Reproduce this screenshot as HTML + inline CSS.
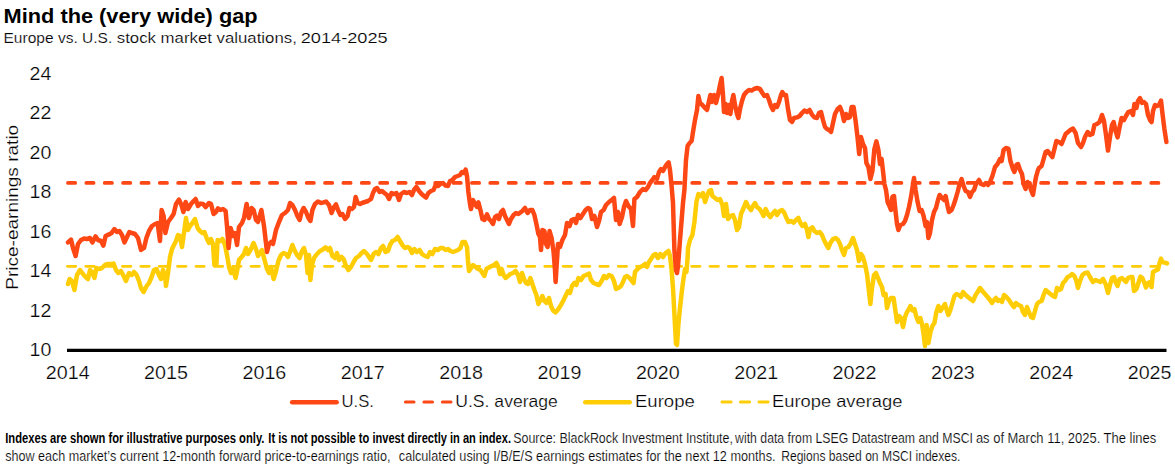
<!DOCTYPE html>
<html><head><meta charset="utf-8">
<style>
html,body{margin:0;padding:0;background:#fff;}
body{width:1175px;height:465px;overflow:hidden;}
svg{display:block;}
text{font-family:"Liberation Sans",sans-serif;fill:#000;}
.thin text,text.thin{stroke:#fff;stroke-width:0.24px;}
text.thin2{stroke:#fff;stroke-width:0.18px;}
</style></head>
<body>
<svg width="1175" height="465" viewBox="0 0 1175 465">
<rect width="1175" height="465" fill="#fff"/>
<!-- TITLE -->
<text x="3.6" y="22.8" font-size="19.8" font-weight="bold" textLength="254" lengthAdjust="spacingAndGlyphs">Mind the (very wide) gap</text>
<text x="3.5" y="43.4" class="thin2" font-size="14.3" textLength="108.8" lengthAdjust="spacingAndGlyphs">Europe vs. U.S.</text>
<text x="116.8" y="43.4" class="thin2" font-size="14.3" textLength="180.0" lengthAdjust="spacingAndGlyphs">stock market valuations,</text>
<text x="300.7" y="43.4" class="thin2" font-size="14.3" textLength="87.0" lengthAdjust="spacingAndGlyphs">2014-2025</text>
<!-- Y AXIS LABELS -->
<g font-size="18" class="thin">
<text x="29.6" y="79.9" textLength="21.8" lengthAdjust="spacingAndGlyphs">24</text>
<text x="29.6" y="119.3" textLength="21.8" lengthAdjust="spacingAndGlyphs">22</text>
<text x="29.6" y="158.8" textLength="21.8" lengthAdjust="spacingAndGlyphs">20</text>
<text x="29.6" y="198.2" textLength="21.8" lengthAdjust="spacingAndGlyphs">18</text>
<text x="29.6" y="237.6" textLength="21.8" lengthAdjust="spacingAndGlyphs">16</text>
<text x="29.6" y="277.0" textLength="21.8" lengthAdjust="spacingAndGlyphs">14</text>
<text x="29.6" y="316.5" textLength="21.8" lengthAdjust="spacingAndGlyphs">12</text>
<text x="29.6" y="355.9" textLength="21.8" lengthAdjust="spacingAndGlyphs">10</text>
</g>
<text transform="translate(18.2,289.8) rotate(-90)" class="thin2" font-size="16" textLength="165" lengthAdjust="spacingAndGlyphs">Price-earnings ratio</text>
<!-- AVERAGES -->
<line x1="68" y1="182.9" x2="1162" y2="182.9" stroke="#fd4714" stroke-width="3.8" stroke-linecap="round" stroke-dasharray="7.2 11.16"/>
<line x1="67.4" y1="266.3" x2="1162" y2="266.3" stroke="#fecd06" stroke-width="2.8" stroke-linecap="round" stroke-dasharray="8.4 9.96"/>
<!-- DATA -->
<!--EU--><path id="eu" d="M68.0,284.0 L69.6,279.0 L72.0,281.0 L74.4,290.0 L77.0,275.0 L80.0,270.0 L83.0,274.0 L85.6,277.0 L88.0,279.0 L90.0,270.0 L92.0,272.0 L94.4,278.0 L96.4,268.0 L99.0,269.0 L102.0,268.0 L105.0,265.0 L108.0,264.0 L111.0,264.0 L113.6,263.6 L116.0,270.0 L118.4,273.0 L121.0,271.0 L123.6,276.0 L126.0,281.0 L129.0,273.0 L131.6,275.0 L134.0,272.0 L136.6,275.0 L139.0,281.0 L141.0,288.0 L143.6,292.0 L146.0,287.0 L149.0,283.0 L151.6,277.0 L154.0,270.0 L156.4,269.0 L159.0,275.0 L161.0,279.0 L163.0,270.0 L165.0,275.0 L166.0,286.0 L168.0,273.0 L170.0,257.0 L172.0,249.0 L174.0,245.0 L176.0,241.0 L178.0,235.0 L180.0,236.0 L182.0,247.0 L184.4,230.0 L186.0,218.0 L188.0,230.0 L190.0,226.0 L192.4,223.0 L195.0,219.0 L197.6,228.0 L200.0,231.0 L202.4,233.0 L204.4,232.0 L207.0,239.0 L209.0,243.0 L211.0,239.0 L213.0,244.0 L214.4,265.0 L216.4,265.0 L217.6,240.0 L220.0,241.0 L222.4,239.0 L225.0,245.0 L227.0,255.0 L229.0,267.0 L231.0,273.0 L233.0,269.0 L235.6,278.0 L237.6,268.0 L239.0,260.0 L241.6,257.0 L244.0,254.0 L246.0,248.0 L248.0,254.0 L251.0,249.0 L253.6,243.0 L256.0,249.0 L258.0,256.0 L260.0,253.0 L262.0,250.0 L264.0,258.0 L267.0,269.0 L269.0,273.0 L271.0,267.0 L273.6,279.0 L276.0,271.0 L278.4,261.0 L281.0,255.0 L283.6,253.0 L286.0,254.0 L288.0,257.0 L290.0,252.0 L292.4,245.0 L294.4,250.0 L297.0,255.0 L299.6,258.0 L301.6,252.0 L304.0,248.0 L306.0,255.0 L307.6,273.0 L309.0,255.0 L310.4,280.0 L312.0,265.0 L314.0,258.0 L317.0,254.0 L320.0,251.0 L323.0,249.4 L325.6,247.4 L328.0,250.0 L330.0,248.0 L332.4,256.0 L335.0,258.0 L337.0,253.0 L339.0,260.0 L341.6,257.0 L343.6,259.0 L346.0,266.0 L348.4,270.0 L351.0,267.0 L353.6,262.0 L356.0,258.0 L359.0,256.0 L361.6,253.0 L364.0,251.0 L367.0,254.0 L369.0,257.0 L371.0,260.0 L373.6,254.0 L376.0,252.0 L378.4,254.0 L381.0,248.0 L383.0,246.0 L385.6,252.0 L388.0,251.0 L390.0,245.0 L392.4,241.0 L395.0,240.0 L397.6,237.0 L400.0,241.0 L402.4,245.0 L405.0,248.0 L407.6,247.0 L409.6,248.0 L412.0,253.0 L414.4,249.0 L417.0,252.0 L419.6,250.0 L422.0,254.0 L425.0,256.0 L427.6,257.0 L430.0,252.0 L432.4,254.0 L435.0,249.0 L438.0,250.0 L440.4,248.0 L443.0,248.0 L445.6,250.0 L448.0,249.0 L450.4,251.0 L453.0,252.0 L455.6,251.0 L458.0,250.0 L460.4,248.0 L462.4,242.0 L465.0,242.0 L467.0,247.0 L468.0,261.0 L469.0,271.0 L471.0,268.0 L473.0,265.0 L475.6,267.0 L478.0,269.0 L480.4,270.0 L482.4,273.0 L484.4,276.0 L486.4,269.0 L489.0,267.4 L491.6,266.0 L494.0,265.0 L496.4,263.0 L498.4,267.0 L500.0,274.0 L501.6,269.0 L503.6,275.0 L505.6,278.0 L508.0,276.0 L510.4,274.0 L513.0,273.0 L515.6,271.0 L518.0,275.0 L520.0,282.0 L522.0,273.0 L524.0,279.0 L526.0,283.0 L528.0,284.0 L530.4,278.0 L532.4,284.0 L534.4,290.0 L536.4,295.0 L538.4,304.0 L540.0,301.0 L542.4,296.0 L544.4,301.0 L546.4,303.0 L549.0,298.0 L551.0,306.0 L553.0,310.4 L555.6,312.4 L558.4,309.0 L561.0,305.0 L563.6,300.0 L566.0,295.0 L568.0,291.0 L570.0,293.0 L572.0,286.0 L574.4,283.0 L576.4,285.0 L578.4,278.0 L581.0,280.0 L583.6,276.0 L586.0,275.0 L589.0,273.6 L591.0,280.0 L593.6,283.0 L596.0,284.0 L599.0,285.0 L601.6,281.0 L604.0,276.0 L606.4,278.0 L609.0,275.0 L611.6,276.0 L614.0,281.0 L616.0,289.0 L618.4,288.0 L621.0,286.0 L623.0,282.0 L625.0,277.0 L627.0,276.0 L629.6,278.0 L632.0,281.0 L633.6,283.0 L635.0,272.0 L637.6,269.0 L640.0,267.0 L642.4,266.0 L645.0,264.0 L647.0,267.0 L649.0,262.0 L651.0,259.0 L653.6,255.0 L655.6,254.0 L658.0,258.0 L660.4,254.0 L663.0,257.0 L665.6,253.0 L668.4,251.0 L670.0,256.0 L671.6,270.0 L673.0,288.0 L674.4,314.0 L676.0,344.0 L677.0,345.0 L678.4,324.0 L680.0,308.0 L682.0,290.0 L683.6,278.0 L685.0,269.0 L686.4,272.0 L687.6,258.0 L688.0,248.0 L690.0,240.0 L692.4,235.0 L694.4,222.0 L696.4,202.0 L698.4,194.0 L701.0,196.0 L703.0,193.0 L705.0,202.0 L707.0,196.0 L709.0,191.0 L711.0,190.0 L712.4,196.0 L715.0,198.0 L717.6,200.0 L720.0,199.0 L722.4,205.0 L724.0,216.0 L726.0,204.0 L728.0,219.0 L730.4,216.0 L733.0,215.0 L735.0,220.0 L737.0,230.0 L739.0,227.0 L741.0,214.0 L743.6,208.0 L746.0,202.0 L748.4,207.0 L751.0,210.0 L753.0,206.0 L755.0,203.0 L757.0,207.0 L759.6,209.0 L761.6,212.0 L763.6,216.0 L765.6,209.0 L768.0,214.0 L770.4,217.0 L773.0,213.0 L775.0,211.0 L777.0,215.0 L779.6,211.0 L782.0,210.0 L784.4,213.0 L786.4,218.0 L788.4,222.0 L791.0,221.0 L793.6,222.6 L796.0,220.0 L798.4,218.0 L800.4,223.0 L802.4,226.0 L805.0,224.0 L807.0,230.0 L808.4,237.0 L810.0,229.0 L812.4,227.4 L814.4,231.0 L817.0,233.0 L819.6,232.0 L822.0,235.0 L824.0,240.0 L826.0,244.0 L828.4,248.0 L830.4,243.0 L833.0,239.0 L835.6,238.0 L838.0,240.0 L840.0,244.0 L842.0,250.0 L844.0,255.0 L846.0,248.0 L848.4,247.0 L850.4,244.0 L853.0,238.0 L855.0,244.0 L857.0,250.0 L859.0,261.0 L861.0,254.0 L863.0,257.0 L865.0,264.0 L867.0,274.0 L868.6,288.0 L870.4,304.0 L872.0,288.0 L874.0,275.0 L876.0,273.0 L878.0,278.0 L880.0,283.0 L882.0,287.0 L883.6,295.0 L885.6,294.0 L887.0,308.0 L889.0,301.0 L891.0,298.0 L893.6,298.0 L895.0,308.0 L897.0,322.0 L899.0,316.0 L901.0,318.0 L903.0,327.0 L905.0,317.0 L907.0,312.0 L909.0,309.0 L910.4,306.0 L912.4,310.4 L914.4,309.0 L916.4,317.0 L918.4,322.0 L920.4,318.0 L922.0,324.0 L923.6,334.0 L925.0,346.0 L926.6,325.0 L928.4,343.0 L930.4,332.0 L932.4,326.0 L934.4,323.0 L936.4,312.0 L938.4,306.0 L940.4,311.0 L942.4,308.0 L945.0,304.0 L947.0,311.0 L948.4,315.0 L950.4,310.0 L952.4,303.0 L954.4,296.0 L956.4,294.0 L959.0,295.0 L961.0,297.0 L963.0,292.0 L965.6,295.0 L968.0,297.0 L970.4,299.0 L973.0,301.0 L975.6,295.0 L977.6,292.0 L980.0,288.0 L982.4,291.0 L985.0,294.0 L987.6,297.0 L990.0,300.0 L992.0,303.0 L994.0,300.0 L996.0,298.0 L998.0,301.0 L1000.0,300.0 L1002.0,302.0 L1004.0,295.0 L1006.4,297.0 L1009.0,300.0 L1011.6,304.0 L1014.0,307.0 L1016.0,303.0 L1018.4,305.0 L1021.0,306.0 L1023.0,312.0 L1025.0,315.0 L1027.0,307.0 L1029.0,312.0 L1031.0,317.0 L1033.0,318.0 L1035.0,311.0 L1037.0,304.0 L1039.0,302.0 L1041.6,301.0 L1043.6,295.0 L1045.6,290.0 L1048.0,292.0 L1050.4,294.0 L1053.0,296.0 L1055.0,297.0 L1057.0,288.0 L1059.0,290.0 L1061.0,289.0 L1063.0,283.0 L1065.0,281.0 L1067.6,277.0 L1070.0,276.0 L1072.0,274.0 L1074.4,276.0 L1076.4,281.0 L1078.0,288.0 L1080.0,281.0 L1082.4,275.0 L1085.0,273.0 L1087.6,272.6 L1090.0,277.0 L1093.0,282.0 L1095.6,280.0 L1098.0,281.0 L1100.4,282.0 L1103.0,279.0 L1105.6,284.0 L1108.0,293.0 L1110.0,285.0 L1112.0,278.0 L1114.0,277.0 L1116.0,283.0 L1117.6,286.0 L1119.6,279.0 L1122.0,278.0 L1124.0,280.0 L1126.0,282.0 L1128.0,278.0 L1130.4,277.0 L1132.4,277.0 L1134.0,291.0 L1136.4,289.0 L1138.4,283.0 L1140.4,276.6 L1142.4,278.0 L1144.4,283.0 L1146.0,287.4 L1148.0,283.0 L1150.0,282.0 L1151.6,287.0 L1153.0,272.0 L1155.6,270.6 L1158.0,269.4 L1159.6,263.0 L1161.0,258.6 L1162.4,262.0 L1165.0,262.6 L1167.0,263.4" fill="none" stroke="#fecd06" stroke-width="4.5" stroke-linejoin="round" stroke-linecap="round"/><!--/EU-->
<!--US--><path id="us" d="M68.0,242.4 L71.0,239.6 L73.0,248.0 L75.6,256.0 L78.0,244.0 L81.0,240.0 L84.0,238.6 L87.0,239.0 L90.0,238.0 L92.4,242.4 L95.6,236.4 L98.0,240.0 L101.0,241.0 L103.4,245.6 L105.6,236.0 L109.0,234.4 L111.6,233.0 L114.4,229.0 L117.0,232.0 L119.4,231.0 L122.0,235.0 L124.4,242.4 L127.0,237.0 L129.4,232.0 L132.0,233.0 L135.0,234.0 L138.0,238.0 L141.0,250.0 L144.0,248.0 L146.4,238.0 L149.0,231.0 L152.0,226.0 L155.0,224.0 L157.6,223.0 L160.0,241.0 L161.6,210.0 L163.6,216.0 L165.4,233.0 L168.0,222.0 L171.0,218.0 L173.6,214.0 L176.0,204.0 L179.0,199.6 L181.4,205.0 L183.4,212.0 L185.6,202.0 L188.0,209.0 L191.0,204.0 L193.6,201.0 L195.6,199.0 L198.0,206.0 L200.4,203.6 L203.0,204.0 L205.6,207.0 L209.0,203.0 L211.0,204.0 L213.6,214.0 L216.0,212.0 L218.0,208.4 L220.4,210.0 L223.0,209.0 L225.6,211.0 L227.0,226.0 L228.6,248.0 L230.6,228.0 L233.0,236.0 L235.0,233.0 L237.0,245.0 L239.0,227.0 L242.0,223.0 L244.0,218.0 L246.6,204.0 L249.0,218.0 L251.6,208.0 L253.6,210.0 L256.0,220.0 L258.0,222.0 L261.4,210.0 L264.0,226.0 L267.0,252.0 L269.0,244.0 L271.0,242.0 L273.0,244.0 L276.0,230.0 L279.0,222.0 L282.0,215.0 L285.0,213.0 L288.0,210.0 L290.0,203.0 L292.4,205.0 L295.0,210.0 L297.4,216.0 L299.6,220.0 L301.6,212.0 L303.6,208.0 L306.0,212.0 L308.4,218.0 L310.4,221.0 L312.4,210.0 L315.0,204.0 L318.0,201.6 L321.0,203.0 L323.6,202.4 L326.0,201.6 L329.0,205.0 L331.6,213.0 L334.0,207.0 L336.0,204.4 L338.0,210.0 L340.4,215.0 L342.4,214.0 L345.0,219.0 L347.6,216.0 L349.4,208.0 L352.0,209.0 L354.0,207.0 L355.6,197.0 L357.6,203.0 L360.0,204.0 L362.0,203.0 L365.0,202.0 L368.0,201.0 L371.0,199.0 L373.0,193.0 L375.0,189.0 L377.0,188.0 L379.6,192.0 L382.0,191.0 L384.4,193.0 L387.0,195.0 L389.0,199.0 L391.6,193.0 L394.0,194.0 L396.4,193.0 L399.0,200.0 L401.0,194.0 L404.0,192.0 L407.0,193.0 L409.6,192.0 L412.0,195.0 L414.0,190.0 L416.4,187.0 L419.0,191.0 L421.6,194.0 L424.0,196.0 L426.0,197.6 L428.4,193.0 L431.0,191.0 L433.6,190.0 L435.6,185.0 L438.0,186.0 L440.4,184.0 L443.0,183.0 L445.6,185.6 L448.0,186.0 L450.0,181.0 L452.4,180.0 L455.0,177.0 L457.6,176.0 L460.0,175.0 L462.0,172.0 L464.0,173.0 L465.6,169.6 L467.0,176.0 L468.4,192.0 L470.0,204.0 L471.0,209.0 L473.0,200.0 L475.0,204.0 L477.0,207.0 L478.4,202.4 L480.4,210.0 L482.4,219.0 L484.4,220.0 L487.0,214.4 L489.0,219.0 L491.0,221.0 L493.0,224.0 L495.0,217.0 L497.0,215.6 L499.0,219.0 L501.0,212.0 L503.0,210.0 L505.0,216.0 L507.0,220.0 L509.0,224.0 L511.0,219.0 L513.6,215.0 L516.0,213.0 L518.4,214.0 L521.0,212.0 L522.4,211.0 L525.0,208.0 L527.6,213.0 L530.0,210.0 L532.4,210.0 L534.4,215.0 L536.4,224.0 L538.4,234.0 L540.0,237.0 L541.0,250.0 L542.4,230.0 L544.4,231.0 L546.0,244.0 L547.6,247.0 L549.6,231.0 L551.6,238.0 L553.6,252.0 L555.0,270.0 L555.6,282.0 L556.6,266.0 L558.0,244.0 L560.0,247.0 L562.4,240.0 L565.0,235.0 L567.0,223.0 L569.6,226.0 L571.6,220.0 L574.0,219.0 L576.0,223.0 L578.0,215.0 L580.4,218.0 L583.0,214.0 L585.6,210.0 L588.0,208.0 L590.0,209.0 L592.0,219.0 L594.4,216.0 L597.0,227.0 L599.0,221.0 L601.0,212.0 L603.6,210.0 L606.0,205.0 L609.0,202.0 L611.6,200.0 L614.0,198.0 L616.0,220.0 L618.0,212.0 L619.6,224.0 L622.0,217.0 L624.0,207.0 L626.0,201.0 L628.4,206.0 L631.0,209.0 L633.0,226.0 L634.4,199.0 L637.0,197.0 L640.0,192.0 L643.0,189.0 L645.6,190.0 L648.0,187.0 L650.0,183.0 L652.4,180.0 L654.4,177.0 L657.0,179.0 L659.0,172.0 L661.0,169.0 L663.0,171.0 L665.0,167.0 L667.0,164.0 L668.6,162.4 L670.0,170.0 L671.6,186.0 L673.0,203.0 L674.4,250.0 L676.0,270.0 L677.0,273.0 L678.0,266.0 L680.0,240.0 L683.0,203.0 L684.4,190.0 L686.0,160.0 L687.6,146.0 L689.6,143.0 L691.6,141.0 L693.0,132.0 L695.0,120.0 L697.0,110.0 L698.4,96.0 L700.0,103.0 L702.4,105.0 L705.0,108.0 L707.0,110.0 L709.0,101.0 L710.4,95.0 L712.0,102.0 L714.0,95.0 L716.0,103.0 L718.0,95.0 L720.0,85.0 L721.6,78.0 L723.0,95.0 L724.0,112.0 L725.6,104.0 L727.0,113.0 L729.0,105.0 L730.4,114.0 L732.0,101.0 L733.4,95.0 L735.0,105.0 L737.0,114.0 L738.4,118.0 L740.0,109.0 L742.0,101.0 L744.0,95.0 L746.4,92.0 L749.0,90.0 L751.6,90.6 L754.0,89.0 L757.0,88.0 L760.0,89.0 L762.4,93.0 L764.4,96.0 L767.0,95.0 L769.0,100.0 L771.0,106.0 L773.0,110.0 L775.0,105.0 L777.0,107.0 L779.0,102.0 L781.0,95.0 L782.4,92.0 L784.0,95.0 L786.0,95.0 L788.0,109.0 L790.0,120.0 L792.0,122.0 L794.0,118.0 L797.0,117.4 L799.6,116.0 L802.0,113.0 L804.4,110.6 L807.0,112.0 L809.6,110.0 L812.0,114.6 L814.4,117.4 L817.0,118.0 L819.0,113.0 L821.0,112.0 L823.0,120.0 L825.0,127.0 L827.0,129.0 L829.0,130.0 L831.0,132.0 L833.0,123.0 L835.0,114.0 L837.6,109.0 L840.0,107.0 L842.0,112.0 L844.0,121.0 L846.0,114.0 L848.0,118.0 L850.0,117.0 L851.6,107.0 L853.6,107.0 L855.6,121.0 L857.6,138.0 L859.2,154.0 L861.0,137.0 L863.0,144.0 L865.0,148.0 L866.4,163.0 L868.4,167.0 L870.4,179.0 L872.4,171.0 L874.4,149.0 L876.4,141.4 L878.4,150.0 L880.0,164.0 L881.6,159.0 L883.0,171.0 L884.4,184.0 L886.0,190.0 L887.6,202.0 L889.0,205.0 L891.0,210.0 L892.4,197.0 L894.0,196.0 L895.6,212.0 L897.0,224.0 L898.4,230.0 L900.4,225.0 L903.0,224.0 L905.0,221.0 L907.0,215.0 L909.0,207.0 L911.0,197.0 L912.4,188.0 L914.0,178.0 L915.6,190.0 L917.6,202.0 L919.6,211.0 L921.6,210.0 L923.6,216.0 L925.6,226.0 L927.0,222.0 L928.4,238.0 L930.0,233.0 L932.0,220.0 L934.0,212.0 L936.0,208.0 L938.0,200.0 L939.6,195.0 L942.0,198.0 L944.0,200.0 L945.6,196.0 L947.6,206.0 L949.0,212.0 L951.6,210.0 L953.6,205.0 L955.6,199.0 L957.6,192.0 L959.6,184.0 L961.6,179.0 L963.6,186.0 L965.6,191.0 L968.0,192.0 L970.0,197.0 L972.0,192.0 L974.0,190.0 L976.0,184.0 L979.0,180.0 L981.0,184.0 L983.6,185.0 L986.0,183.0 L988.0,185.0 L990.0,182.0 L992.4,176.0 L995.0,167.0 L997.6,164.0 L1000.0,159.0 L1001.6,161.0 L1003.6,150.0 L1006.0,148.0 L1008.4,148.6 L1010.4,161.0 L1013.0,169.0 L1014.4,172.0 L1016.4,165.0 L1018.0,164.0 L1020.0,170.0 L1022.0,174.0 L1023.6,184.0 L1025.6,189.0 L1027.6,182.0 L1029.6,184.0 L1031.0,190.0 L1033.0,195.0 L1034.4,186.0 L1036.0,177.0 L1038.0,170.0 L1039.0,168.0 L1041.6,166.0 L1043.6,159.0 L1045.6,152.0 L1047.6,151.0 L1050.0,154.0 L1052.4,157.0 L1054.4,149.0 L1056.4,141.0 L1059.0,142.0 L1061.6,144.0 L1063.6,139.0 L1065.6,134.0 L1068.0,132.0 L1070.4,130.0 L1073.0,128.6 L1075.6,133.0 L1078.0,143.0 L1081.0,147.0 L1083.0,143.0 L1085.0,137.0 L1087.6,132.0 L1090.0,135.0 L1092.4,134.0 L1094.4,125.0 L1097.0,124.0 L1099.6,122.0 L1102.0,115.0 L1104.0,121.0 L1106.0,135.0 L1108.0,150.6 L1110.0,137.0 L1112.0,125.0 L1113.6,122.0 L1115.6,131.0 L1117.6,137.4 L1119.6,127.0 L1121.6,118.0 L1124.0,120.0 L1126.0,116.0 L1128.4,112.0 L1131.0,111.0 L1133.0,115.0 L1134.4,104.0 L1136.4,108.0 L1138.0,101.0 L1140.0,98.0 L1142.0,103.0 L1144.0,102.0 L1146.0,104.0 L1148.0,115.0 L1150.0,120.0 L1151.6,122.0 L1153.0,111.0 L1155.0,105.0 L1157.0,106.0 L1159.0,105.0 L1161.0,100.6 L1162.4,113.0 L1164.4,129.0 L1166.4,142.0" fill="none" stroke="#fd4714" stroke-width="4.5" stroke-linejoin="round" stroke-linecap="round"/><!--/US-->
<!-- AXIS -->
<line x1="67" y1="350.4" x2="1166.5" y2="350.4" stroke="#000" stroke-width="3.2"/>
<g font-size="18" text-anchor="middle" class="thin">
<text x="67.7" y="378.7" textLength="43.8" lengthAdjust="spacingAndGlyphs">2014</text>
<text x="166.0" y="378.7" textLength="43.8" lengthAdjust="spacingAndGlyphs">2015</text>
<text x="264.4" y="378.7" textLength="43.8" lengthAdjust="spacingAndGlyphs">2016</text>
<text x="362.7" y="378.7" textLength="43.8" lengthAdjust="spacingAndGlyphs">2017</text>
<text x="461.1" y="378.7" textLength="43.8" lengthAdjust="spacingAndGlyphs">2018</text>
<text x="559.5" y="378.7" textLength="43.8" lengthAdjust="spacingAndGlyphs">2019</text>
<text x="657.8" y="378.7" textLength="43.8" lengthAdjust="spacingAndGlyphs">2020</text>
<text x="756.2" y="378.7" textLength="43.8" lengthAdjust="spacingAndGlyphs">2021</text>
<text x="854.5" y="378.7" textLength="43.8" lengthAdjust="spacingAndGlyphs">2022</text>
<text x="952.9" y="378.7" textLength="43.8" lengthAdjust="spacingAndGlyphs">2023</text>
<text x="1051.2" y="378.7" textLength="43.8" lengthAdjust="spacingAndGlyphs">2024</text>
<text x="1149.6" y="378.7" textLength="43.8" lengthAdjust="spacingAndGlyphs">2025</text>
</g>
<!-- LEGEND -->
<line x1="292.2" y1="402.3" x2="336.6" y2="402.3" stroke="#fd4714" stroke-width="4.6" stroke-linecap="round"/>
<text x="341.5" y="407.4" class="thin" font-size="16.5" textLength="32.4" lengthAdjust="spacingAndGlyphs">U.S.</text>
<line x1="405.4" y1="402" x2="452" y2="402" stroke="#fd4714" stroke-width="3" stroke-linecap="round" stroke-dasharray="8.6 9.9"/>
<text x="455.3" y="407.4" class="thin" font-size="16.5" textLength="102.6" lengthAdjust="spacingAndGlyphs">U.S. average</text>
<line x1="585.3" y1="402.3" x2="629.7" y2="402.3" stroke="#fecd06" stroke-width="4.6" stroke-linecap="round"/>
<text x="635" y="407.4" class="thin" font-size="16.5" textLength="59.8" lengthAdjust="spacingAndGlyphs">Europe</text>
<line x1="721.9" y1="402" x2="769" y2="402" stroke="#fecd06" stroke-width="2.8" stroke-linecap="round" stroke-dasharray="9.3 9.2"/>
<text x="772" y="407.4" class="thin" font-size="16.5" textLength="130.4" lengthAdjust="spacingAndGlyphs">Europe average</text>
<!-- FOOTNOTE -->
<g font-size="14.5">
<text x="5.2" y="442.5" textLength="259.2" lengthAdjust="spacingAndGlyphs" font-weight="bold">Indexes are shown for illustrative purposes only.</text>
<text x="268.3" y="442.5" textLength="242.7" lengthAdjust="spacingAndGlyphs" font-weight="bold">It is not possible to invest directly in an index.</text>
<text x="513.2" y="442.5" textLength="219.7" lengthAdjust="spacingAndGlyphs" class="thin2">Source: BlackRock Investment Institute,</text>
<text x="735.1" y="442.5" textLength="237.9" lengthAdjust="spacingAndGlyphs" class="thin2">with data from LSEG Datastream and MSCI</text>
<text x="975.9" y="442.5" textLength="180.3" lengthAdjust="spacingAndGlyphs" class="thin2">as of March 11, 2025. The lines</text>
<text x="5.2" y="460.5" textLength="385.2" lengthAdjust="spacingAndGlyphs" class="thin2">show each market’s current 12-month forward price-to-earnings ratio,</text>
<text x="398.8" y="460.5" textLength="376.7" lengthAdjust="spacingAndGlyphs" class="thin2">calculated using I/B/E/S earnings estimates for the next 12 months.</text>
<text x="781.2" y="460.5" textLength="179.3" lengthAdjust="spacingAndGlyphs" class="thin2">Regions based on MSCI indexes.</text>
</g>
</svg>
</body></html>
